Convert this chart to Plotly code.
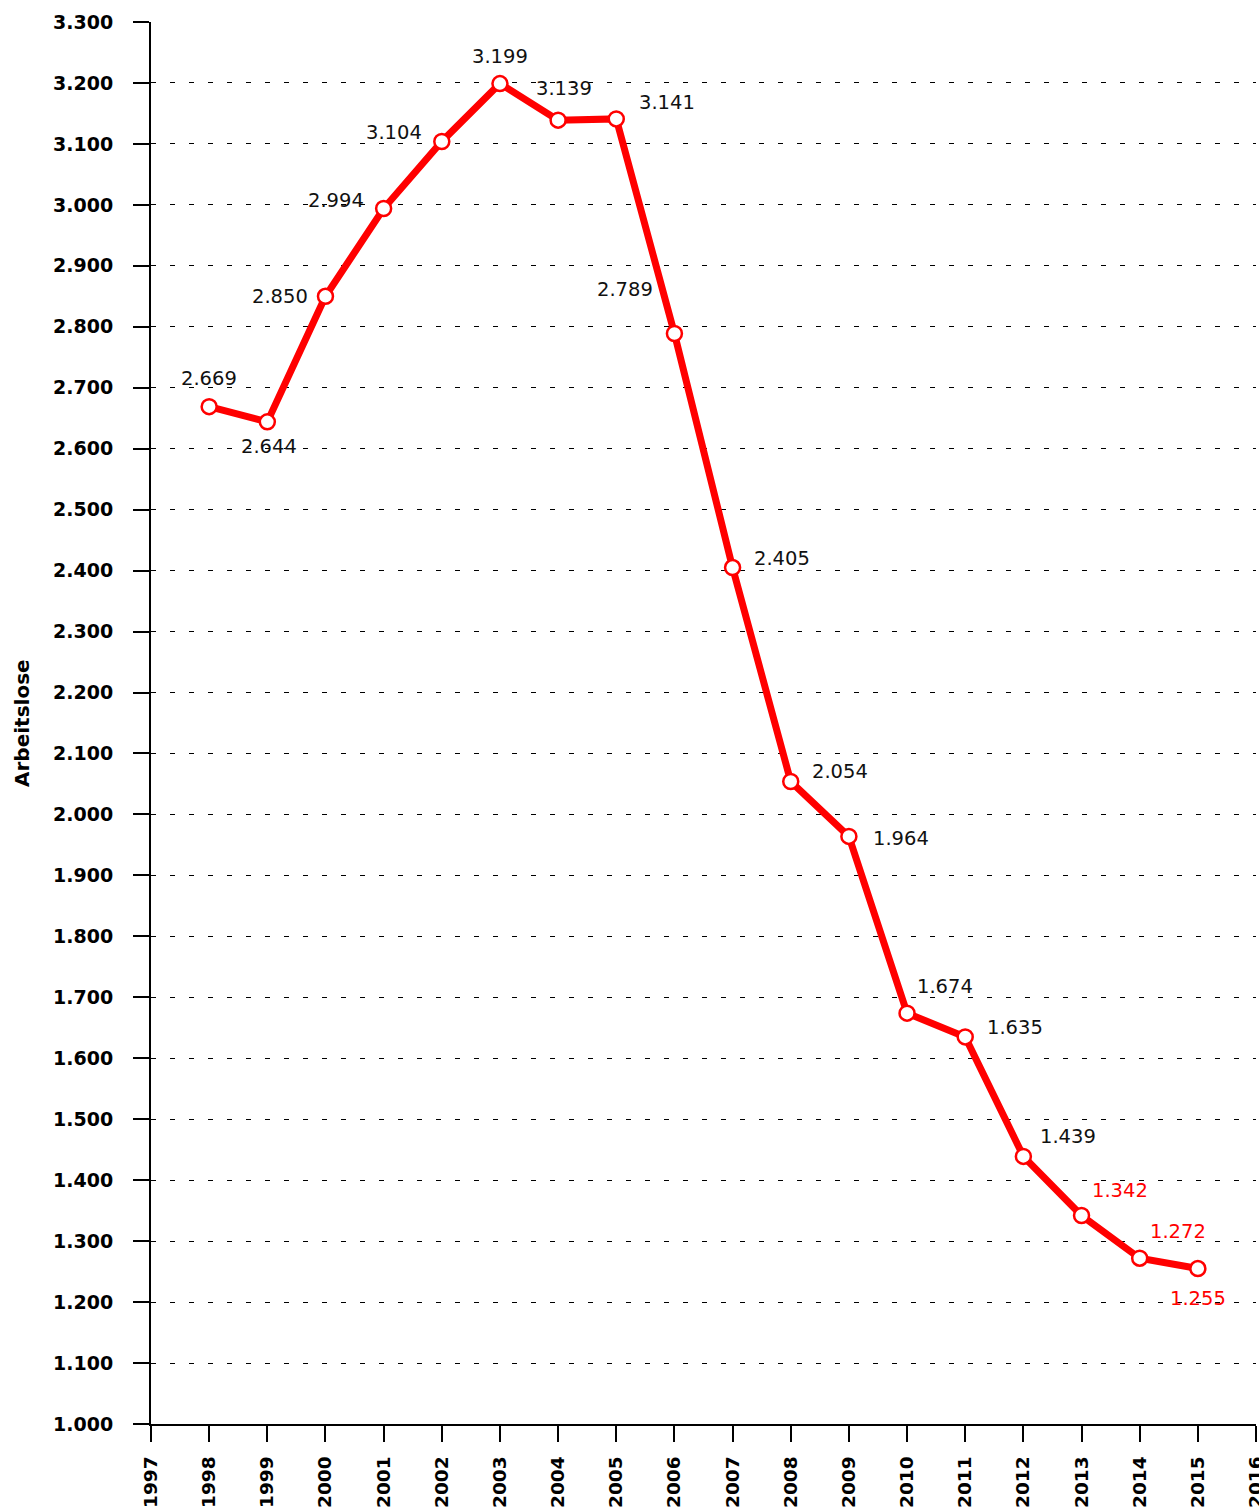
import plotly.graph_objects as go

years = [1998, 1999, 2000, 2001, 2002, 2003, 2004, 2005, 2006, 2007, 2008, 2009, 2010, 2011, 2012, 2013, 2014, 2015]
values = [2669, 2644, 2850, 2994, 3104, 3199, 3139, 3141, 2789, 2405, 2054, 1964, 1674, 1635, 1439, 1342, 1272, 1255]
labels = ["2.669", "2.644", "2.850", "2.994", "3.104", "3.199", "3.139", "3.141", "2.789", "2.405",
          "2.054", "1.964", "1.674", "1.635", "1.439", "1.342", "1.272", "1.255"]
forecast = [False] * 15 + [True] * 3
# label offsets (px) relative to each point
offsets = [(0, -28), (2, 25), (-45, 0), (-48, -8), (-48, -9), (0, -27), (6, -32), (51, -16), (-49, -44),
           (49, -9), (49, -10), (52, 2), (38, -27), (50, -9), (45, -20), (38, -25), (38, -27), (0, 30)]

x_ticks = list(range(1997, 2017))
y_ticks = list(range(1000, 3301, 100))
y_ticktext = ["<b>%d.%03d</b>" % (v // 1000, v % 1000) for v in y_ticks]
x_ticktext = ["<b>%d</b>" % v for v in x_ticks]

fig = go.Figure()
fig.add_trace(go.Scatter(
    x=years, y=values, mode="lines+markers",
    line=dict(color="#FF0000", width=7),
    marker=dict(size=15, color="white", line=dict(color="#FF0000", width=2.5)),
    hoverinfo="skip", showlegend=False,
))

for x, y, t, f, (dx, dy) in zip(years, values, labels, forecast, offsets):
    fig.add_annotation(x=x, y=y, text=t, showarrow=False, xshift=dx, yshift=-dy,
                       font=dict(family="DejaVu Sans", size=19.5, color="#FF0000" if f else "#111111"))

fig.add_annotation(xref="paper", yref="paper", x=0, y=0.5, xshift=-129, xanchor="center", yanchor="middle",
                   text="<b>Arbeitslose</b>", textangle=-90, showarrow=False,
                   font=dict(family="DejaVu Sans", size=20, color="black"))

fig.update_layout(
    width=1259, height=1512,
    margin=dict(l=151, r=3, t=22, b=88),
    plot_bgcolor="white", paper_bgcolor="white",
    font=dict(family="DejaVu Sans", color="black"),
)
fig.update_xaxes(
    range=[1997, 2016], tickvals=x_ticks, ticktext=x_ticktext, tickangle=-90,
    ticks="outside", ticklen=16, tickwidth=2, tickcolor="black",
    showline=True, linecolor="black", linewidth=2, showgrid=False, zeroline=False,
    tickfont=dict(size=18.5, color="black"), automargin=False, ticklabeloverflow="allow",
    ticklabelstandoff=7,
)
fig.update_yaxes(
    range=[1000, 3300], tickvals=y_ticks, ticktext=y_ticktext,
    ticks="outside", ticklen=16, tickwidth=2, tickcolor="black",
    showline=True, linecolor="black", linewidth=2,
    showgrid=True, gridcolor="black", gridwidth=1, griddash="5px,14px", zeroline=False,
    tickfont=dict(size=19, color="black"), automargin=False, ticklabeloverflow="allow",
    ticklabelstandoff=16,
)
fig.write_html("out.html", config={"displayModeBar": False},
               post_script="document.body.style.margin='0';")
